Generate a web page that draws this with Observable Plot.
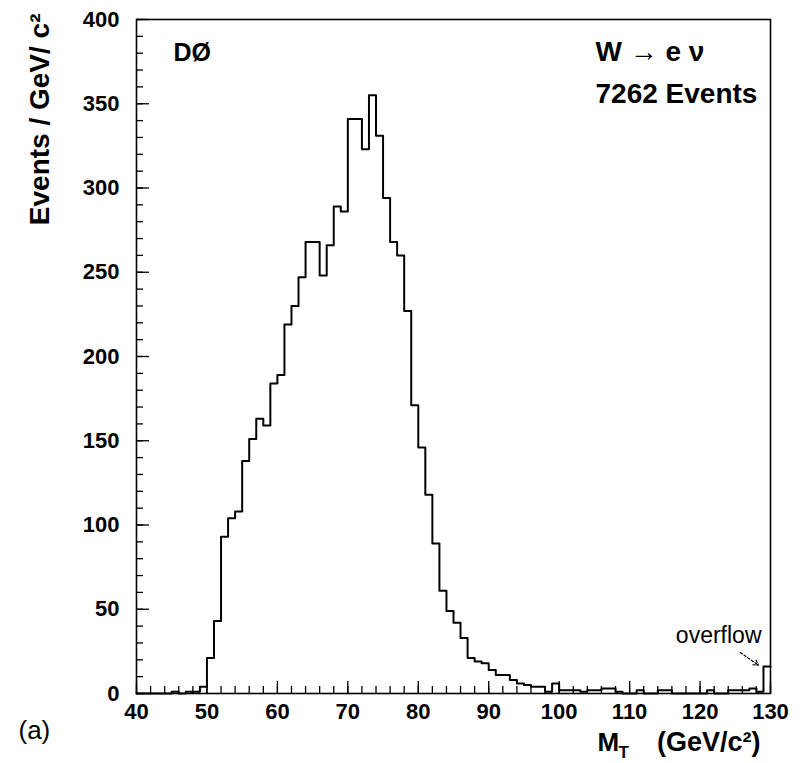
<!DOCTYPE html>
<html>
<head>
<meta charset="utf-8">
<script src="https://cdn.jsdelivr.net/npm/d3@7"></script>
<script src="https://cdn.jsdelivr.net/npm/@observablehq/plot@0.6"></script>
<style>
  html, body { margin: 0; padding: 0; background: #fff; }
</style>
</head>
<body>
<div id="chart"></div>
<script>
// Lower edges of the 1 GeV/c² bins (40 ... 129); last bin holds the overflow
const binLow = d3.range(40, 130);
// Events per bin
const counts = [
  0, 0, 0, 0, 0, 1, 0, 1, 1, 4,              // 40-49
  21, 43, 93, 104, 108, 138, 151, 163, 159, 184, // 50-59
  189, 219, 230, 247, 268, 268, 248, 266, 289, 286, // 60-69
  341, 341, 323, 355, 331, 294, 268, 260, 227, 171, // 70-79
  146, 118, 89, 61, 49, 42, 33, 21, 19, 18,   // 80-89
  14, 11, 11, 8, 6, 5, 4, 4, 1, 6,            // 90-99
  2, 2, 2, 1, 2, 2, 3, 3, 1, 0,               // 100-109
  0, 2, 0, 0, 2, 2, 0, 0, 0, 0,               // 110-119
  0, 2, 0, 0, 2, 2, 2, 3, 1, 16               // 120-129 (129: overflow)
];
const xMinorTicks = d3.range(40, 131, 2);
const xMajorTicks = d3.range(40, 131, 10);
const yMinorTicks = d3.range(0, 401, 10);
const yMajorTicks = d3.range(0, 401, 50);
const overflowArrow = [{x1: 125.7, y1: 24.3, x2: 128.3, y2: 16.8}];

const steps = binLow.map((x, i) => ({x, y: counts[i]}));
steps.push({x: 130, y: counts[counts.length - 1]});

const bold = "bold";
const chart = Plot.plot({
  width: 808,
  height: 763,
  marginLeft: 136,
  marginRight: 38,
  marginTop: 19,
  marginBottom: 70,
  style: {fontFamily: "'Liberation Sans', Arial, Helvetica, sans-serif", background: "#fff", color: "#000"},
  x: {domain: [40, 130]},
  y: {domain: [0, 400]},
  marks: [
    Plot.axisX(xMinorTicks, {tickSize: -7, fill: "none", label: null, strokeWidth: 1.3}),
    Plot.axisX(xMajorTicks, {tickSize: -12, fill: "none", label: null, strokeWidth: 1.3}),
    Plot.axisX(xMajorTicks, {tickSize: 0, tickPadding: 10, fontSize: 22, fontWeight: bold, label: null}),
    Plot.axisY(yMinorTicks, {tickSize: -7, fill: "none", label: null, strokeWidth: 1.3}),
    Plot.axisY(yMajorTicks, {tickSize: -13, fill: "none", label: null, strokeWidth: 1.3}),
    Plot.axisY(yMajorTicks, {tickSize: 0, tickPadding: 17, fontSize: 22, fontWeight: bold, label: null}),
    Plot.frame({strokeWidth: 1.6}),
    Plot.line(steps, {x: "x", y: "y", curve: "step-after", stroke: "#000", strokeWidth: 2}),
    Plot.arrow(overflowArrow, {x1: "x1", y1: "y1", x2: "x2", y2: "y2", stroke: "#000", strokeWidth: 1.2, strokeDasharray: "2.5,2", headLength: 7}),
    Plot.text(["overflow"], {text: d => d, frameAnchor: "bottom-right", dx: -9, dy: -51, textAnchor: "end", lineAnchor: "bottom", fontSize: 23}),
    Plot.text(["DØ"], {text: d => d, frameAnchor: "top-left", dx: 37, dy: 41, textAnchor: "start", lineAnchor: "bottom", fontSize: 25, fontWeight: bold}),
    Plot.text(["W → e ν"], {text: d => d, frameAnchor: "top-right", dx: -175, dy: 41, textAnchor: "start", lineAnchor: "bottom", fontSize: 28, fontWeight: bold}),
    Plot.text(["7262 Events"], {text: d => d, frameAnchor: "top-right", dx: -175, dy: 83, textAnchor: "start", lineAnchor: "bottom", fontSize: 28, fontWeight: bold}),
    Plot.text(["Events / GeV/ c²"], {text: d => d, frameAnchor: "top-left", dx: -96, dy: -6, rotate: -90, textAnchor: "end", lineAnchor: "middle", fontSize: 28, fontWeight: bold}),
    Plot.text(["M"], {text: d => d, frameAnchor: "bottom-right", dx: -173, dy: 57, textAnchor: "start", lineAnchor: "bottom", fontSize: 26, fontWeight: bold}),
    Plot.text(["T"], {text: d => d, frameAnchor: "bottom-right", dx: -152, dy: 64, textAnchor: "start", lineAnchor: "bottom", fontSize: 17, fontWeight: bold}),
    Plot.text(["(GeV/c²)"], {text: d => d, frameAnchor: "bottom-right", dx: -10, dy: 57, textAnchor: "end", lineAnchor: "bottom", fontSize: 27, fontWeight: bold}),
    Plot.text(["(a)"], {text: d => d, frameAnchor: "bottom-left", dx: -118, dy: 45, textAnchor: "start", lineAnchor: "bottom", fontSize: 26})
  ]
});
document.getElementById("chart").appendChild(chart);
</script>
</body>
</html>
